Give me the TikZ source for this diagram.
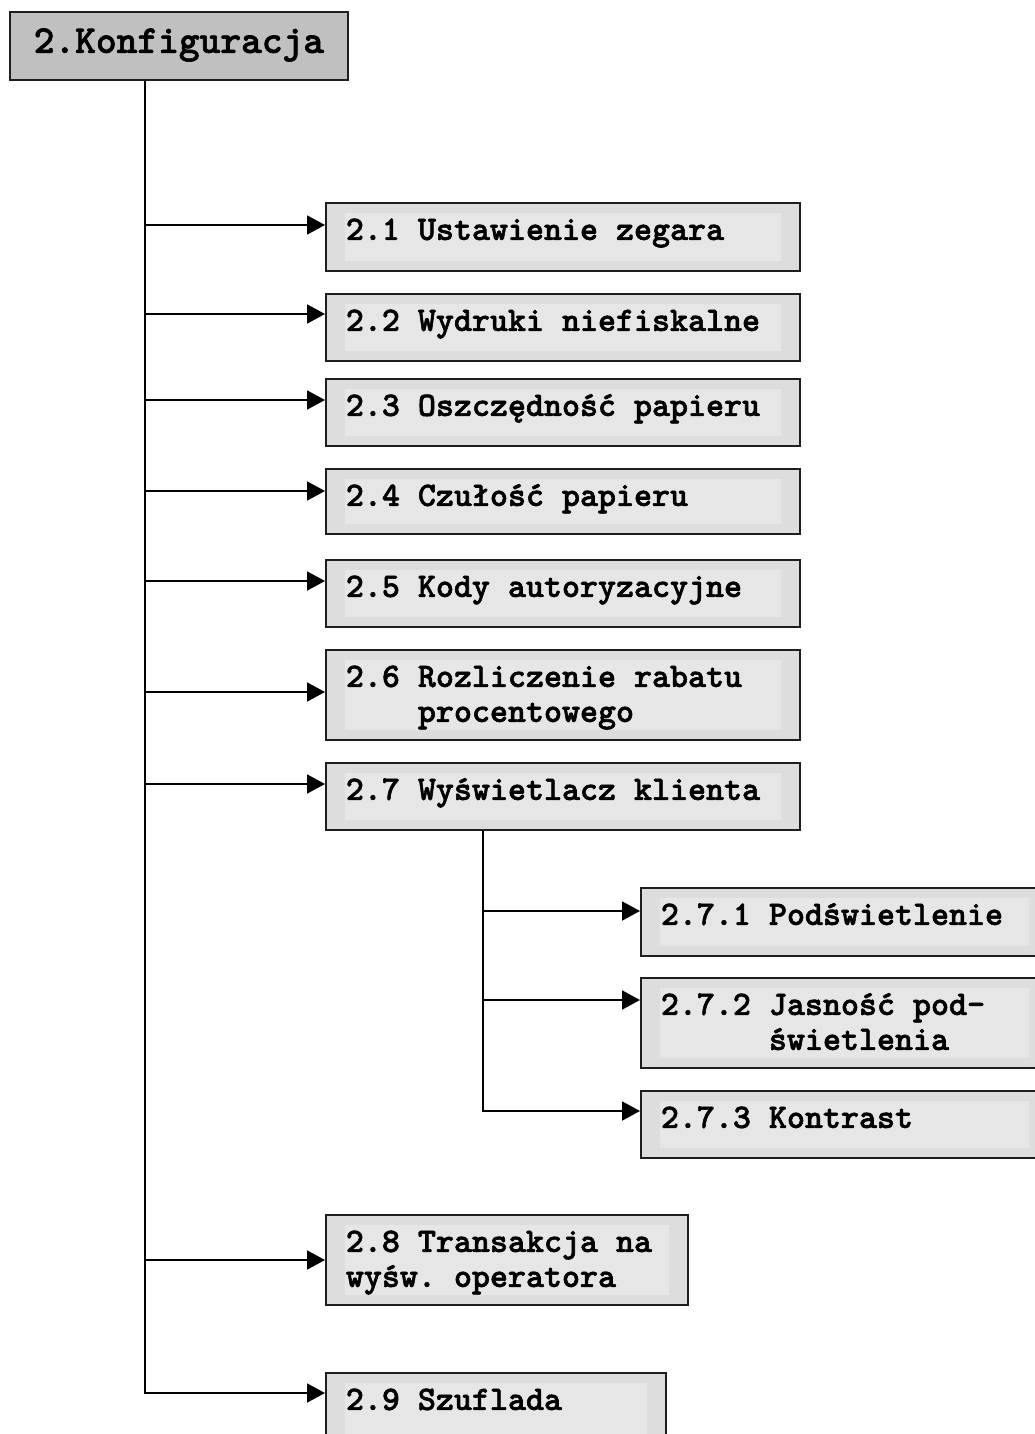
\documentclass[tikz,border=0pt]{standalone}
\usepackage{fontspec}
\newfontfamily\cour{lmmonolt10-bold.otf}[FakeBold=1.6]
\usetikzlibrary{arrows.meta}
\definecolor{boxfill}{RGB}{221,221,221}
\definecolor{txtbg}{RGB}{230,230,230}
\definecolor{topfill}{RGB}{192,192,192}
\definecolor{edge}{RGB}{30,30,30}
\frenchspacing
\begin{document}
\begin{tikzpicture}[x=1pt,y=-1pt,
  base/.style={draw=edge,line width=1.8pt,anchor=north west,inner ysep=0pt},
  topbox/.style={base,fill=topfill,inner xsep=0pt,minimum width=338pt,
    text height=41pt,text depth=27pt,font=\cour\fontsize{39.5}{44}\selectfont},
  box/.style={base,fill=boxfill,inner xsep=20pt,text height=37pt,
    font=\cour\fontsize{34.3}{35}\selectfont\frenchspacing,
    path picture={\fill[txtbg] ([xshift=19pt,yshift=-10pt]path picture bounding box.north west)
      rectangle ([xshift=-19pt,yshift=10pt]path picture bounding box.south east);}},
  conn/.style={line width=1.9pt,draw=black},
  arr/.style={conn,-{Triangle[length=18pt,width=19pt]}}]
\useasboundingbox (0,0) rectangle (1034,1434);

\node[topbox] (T) at (9,11) {2.Konfiguracja};

\node[box,text depth=31pt] (b21) at (325,202) {\parbox[t]{434pt}{2.1 Ustawienie zegara}};
\node[box,text depth=30pt] (b22) at (325,293) {\parbox[t]{434pt}{2.2 Wydruki niefiskalne}};
\node[box,text depth=30pt] (b23) at (325,378) {\parbox[t]{434pt}{2.3 Oszczędność papieru}};
\node[box,text depth=28pt] (b24) at (325,468) {\parbox[t]{434pt}{2.4 Czułość papieru}};
\node[box,text depth=30pt] (b25) at (325,559) {\parbox[t]{434pt}{2.5 Kody autoryzacyjne}};
\node[box,text depth=53pt] (b26) at (325,649) {\parbox[t]{434pt}{2.6 Rozliczenie rabatu\\\hphantom{2.6\ }procentowego}};
\node[box,text depth=30pt] (b27) at (325,762) {\parbox[t]{434pt}{2.7 Wyświetlacz klienta}};
\node[box,text depth=31pt] (b271) at (640,887) {\parbox[t]{367pt}{2.7.1 Podświetlenie}};
\node[box,text depth=53pt] (b272) at (640,977) {\parbox[t]{367pt}{2.7.2 Jasność pod-\\\hphantom{2.7.2\ }świetlenia}};
\node[box,text depth=30pt] (b273) at (640,1090) {\parbox[t]{367pt}{2.7.3 Kontrast}};
\node[box,text depth=53pt] (b28) at (325,1214) {\parbox[t]{322pt}{2.8 Transakcja na\\wyśw. operatora}};
\node[box,text depth=53pt] (b29) at (325,1372) {\parbox[t]{300pt}{2.9 Szuflada}};

\coordinate (a21) at ([yshift=-23pt]b21.north west);
\coordinate (a22) at ([yshift=-21pt]b22.north west);
\coordinate (a23) at ([yshift=-22pt]b23.north west);
\coordinate (a24) at ([yshift=-23pt]b24.north west);
\coordinate (a25) at ([yshift=-22pt]b25.north west);
\coordinate (a26) at ([yshift=-43pt]b26.north west);
\coordinate (a27) at ([yshift=-22pt]b27.north west);
\coordinate (a271) at ([yshift=-24pt]b271.north west);
\coordinate (a272) at ([yshift=-23pt]b272.north west);
\coordinate (a273) at ([yshift=-21pt]b273.north west);
\coordinate (a28) at ([yshift=-46pt]b28.north west);
\coordinate (a29) at ([yshift=-21pt]b29.north west);

\coordinate (tr) at (145,79);
\coordinate (st) at (483,829);

\draw[arr] (T.south -| tr) |- (a29);
\foreach \n in {21,22,23,24,25,26,27,28}
  \draw[arr] (tr |- a\n) -- (a\n);
\draw[arr] (b27.south -| st) |- (a273);
\draw[arr] (st |- a271) -- (a271);
\draw[arr] (st |- a272) -- (a272);
\end{tikzpicture}
\end{document}
